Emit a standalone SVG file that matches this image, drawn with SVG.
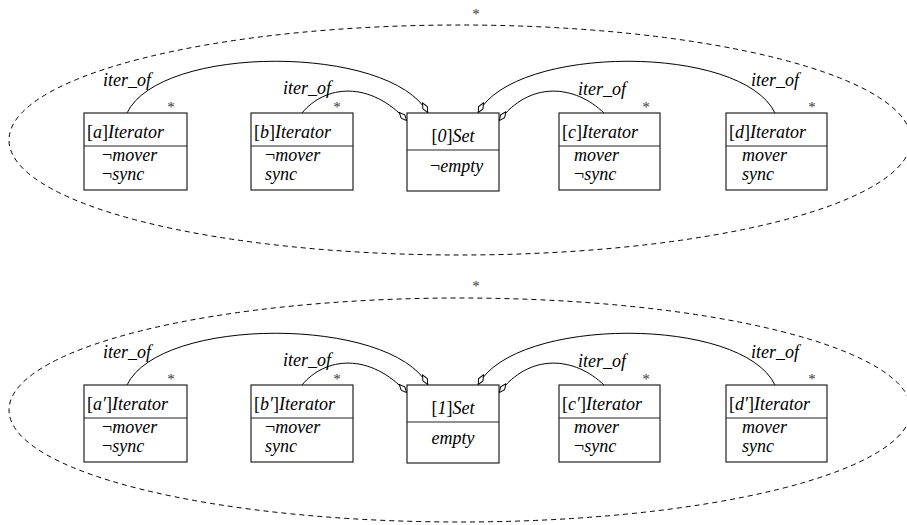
<svg xmlns="http://www.w3.org/2000/svg" width="907" height="525" viewBox="0 0 907 525">
<style>
text{font-family:"Liberation Serif","Times New Roman",serif;font-size:18px;fill:#000}
.it{font-style:italic}
.box{fill:#fff;stroke:#222;stroke-width:1.2}
.div{stroke:#222;stroke-width:1.2}
.ell{fill:none;stroke:#000;stroke-width:1;stroke-dasharray:5,4}
.conn{fill:none;stroke:#000;stroke-width:1}
.star{font-size:15px;fill:#333;text-anchor:middle}
.lbl{font-style:italic;font-size:18px}
</style>
<defs>
<marker id="dia" viewBox="0 0 12 6" refX="12" refY="3" markerWidth="12" markerHeight="6" markerUnits="userSpaceOnUse" orient="auto">
<path d="M0.5,3 L6,0.5 L11.5,3 L6,5.5 Z" fill="#fff" stroke="#000" stroke-width="1"/>
</marker>
</defs>

<!-- top diagram -->
<g id="top">
<g id="top-frame">
<ellipse class="ell" cx="460" cy="140" rx="451" ry="115"/>
<text class="star" x="476" y="19">*</text>
</g>
<g id="top-connectors">
<path class="conn" d="M127,113 C160,44 390,44 428,113" marker-end="url(#dia)"/>
<path class="conn" d="M302,113 C325,85 370,80 407,121" marker-end="url(#dia)"/>
<path class="conn" d="M604,113 C575,85 530,80 499,121" marker-end="url(#dia)"/>
<path class="conn" d="M775,113 C742,44 515,44 478,113" marker-end="url(#dia)"/>
<text class="lbl" x="103" y="86">iter_of</text>
<text class="lbl" x="283" y="94">iter_of</text>
<text class="lbl" x="578" y="95">iter_of</text>
<text class="lbl" x="751" y="86">iter_of</text>
</g>
<g id="node-a">
<rect class="box" x="84" y="113" width="103" height="77"/>
<line class="div" x1="84" y1="146" x2="187" y2="146"/>
<text class="star" x="171" y="112">*</text>
<text x="87" y="138">[<tspan class="it">a</tspan>]<tspan class="it">Iterator</tspan></text>
<text x="102" y="161">¬<tspan class="it">mover</tspan></text>
<text x="102" y="180">¬<tspan class="it">sync</tspan></text>
</g>
<g id="node-b">
<rect class="box" x="251" y="113" width="102" height="77"/>
<line class="div" x1="251" y1="146" x2="353" y2="146"/>
<text class="star" x="337" y="112">*</text>
<text x="254" y="138">[<tspan class="it">b</tspan>]<tspan class="it">Iterator</tspan></text>
<text x="265" y="161">¬<tspan class="it">mover</tspan></text>
<text x="265" y="180" class="it">sync</text>
</g>
<g id="node-set0">
<rect class="box" x="407" y="113" width="92" height="78"/>
<line class="div" x1="407" y1="150" x2="499" y2="150"/>
<text x="453" y="142" text-anchor="middle">[<tspan class="it">0</tspan>]<tspan class="it">Set</tspan></text>
<text x="430" y="172">¬<tspan class="it">empty</tspan></text>
</g>
<g id="node-c">
<rect class="box" x="559" y="113" width="101" height="77"/>
<line class="div" x1="559" y1="146" x2="660" y2="146"/>
<text class="star" x="646" y="112">*</text>
<text x="562" y="138">[<tspan class="it">c</tspan>]<tspan class="it">Iterator</tspan></text>
<text x="574" y="161" class="it">mover</text>
<text x="574" y="180">¬<tspan class="it">sync</tspan></text>
</g>
<g id="node-d">
<rect class="box" x="726" y="113" width="101" height="77"/>
<line class="div" x1="726" y1="146" x2="827" y2="146"/>
<text class="star" x="812" y="112">*</text>
<text x="729" y="138">[<tspan class="it">d</tspan>]<tspan class="it">Iterator</tspan></text>
<text x="742" y="161" class="it">mover</text>
<text x="742" y="180" class="it">sync</text>
</g>
</g>

<!-- bottom diagram -->
<g id="bottom" transform="translate(0,272)">
<g id="bottom-frame">
<ellipse class="ell" cx="460" cy="138" rx="451" ry="112"/>
<text class="star" x="476" y="19">*</text>
</g>
<g id="bottom-connectors">
<path class="conn" d="M127,113 C160,44 390,44 428,113" marker-end="url(#dia)"/>
<path class="conn" d="M302,113 C325,85 370,80 407,121" marker-end="url(#dia)"/>
<path class="conn" d="M604,113 C575,85 530,80 499,121" marker-end="url(#dia)"/>
<path class="conn" d="M775,113 C742,44 515,44 478,113" marker-end="url(#dia)"/>
<text class="lbl" x="103" y="86">iter_of</text>
<text class="lbl" x="283" y="94">iter_of</text>
<text class="lbl" x="578" y="95">iter_of</text>
<text class="lbl" x="751" y="86">iter_of</text>
</g>
<g id="node-a2">
<rect class="box" x="84" y="113" width="103" height="77"/>
<line class="div" x1="84" y1="146" x2="187" y2="146"/>
<text class="star" x="171" y="112">*</text>
<text x="87" y="138">[<tspan class="it">a′</tspan>]<tspan class="it">Iterator</tspan></text>
<text x="102" y="161">¬<tspan class="it">mover</tspan></text>
<text x="102" y="180">¬<tspan class="it">sync</tspan></text>
</g>
<g id="node-b2">
<rect class="box" x="251" y="113" width="102" height="77"/>
<line class="div" x1="251" y1="146" x2="353" y2="146"/>
<text class="star" x="337" y="112">*</text>
<text x="254" y="138">[<tspan class="it">b′</tspan>]<tspan class="it">Iterator</tspan></text>
<text x="265" y="161">¬<tspan class="it">mover</tspan></text>
<text x="265" y="180" class="it">sync</text>
</g>
<g id="node-set1">
<rect class="box" x="407" y="113" width="92" height="78"/>
<line class="div" x1="407" y1="150" x2="499" y2="150"/>
<text x="453" y="142" text-anchor="middle">[<tspan class="it">1</tspan>]<tspan class="it">Set</tspan></text>
<text x="453" y="172" text-anchor="middle" class="it">empty</text>
</g>
<g id="node-c2">
<rect class="box" x="559" y="113" width="101" height="77"/>
<line class="div" x1="559" y1="146" x2="660" y2="146"/>
<text class="star" x="646" y="112">*</text>
<text x="562" y="138">[<tspan class="it">c′</tspan>]<tspan class="it">Iterator</tspan></text>
<text x="574" y="161" class="it">mover</text>
<text x="574" y="180">¬<tspan class="it">sync</tspan></text>
</g>
<g id="node-d2">
<rect class="box" x="726" y="113" width="101" height="77"/>
<line class="div" x1="726" y1="146" x2="827" y2="146"/>
<text class="star" x="812" y="112">*</text>
<text x="729" y="138">[<tspan class="it">d′</tspan>]<tspan class="it">Iterator</tspan></text>
<text x="742" y="161" class="it">mover</text>
<text x="742" y="180" class="it">sync</text>
</g>
</g>
</svg>
